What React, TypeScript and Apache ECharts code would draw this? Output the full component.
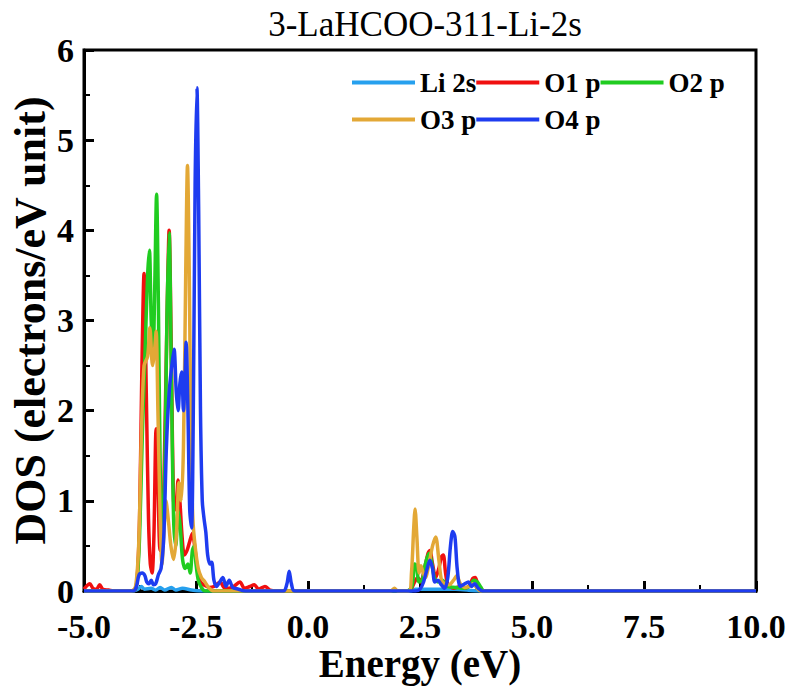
import React, { useEffect, useRef } from "react";
import * as echarts from "echarts";

const chartTitle = "3-LaHCOO-311-Li-2s";
const seriesNames = ["Li 2s", "O1 p", "O2 p", "O3 p", "O4 p"];
const seriesColors = ["#26A0EE", "#F01010", "#20CC20", "#E3A836", "#1E3CF0"];

const li2s: [number, number][] = [
  [-5, 0], [-3.9, 0], [-3.8, 0.02], [-3.72, 0.05], [-3.65, 0.02], [-3.5, 0.03], [-3.4, 0.01],
  [-3.3, 0.04], [-3.2, 0.01], [-3.05, 0.04], [-2.95, 0.01], [-2.8, 0.03], [-2.6, 0.01], [-2.4, 0],
  [2.3, 0], [2.4, 0.02], [2.8, 0.02], [3.3, 0.02], [3.8, 0], [10, 0],
];

const o1p: [number, number][] = [
  [-5, 0.02], [-4.93, 0.06], [-4.87, 0.08], [-4.8, 0.03], [-4.72, 0.02], [-4.65, 0.07], [-4.58, 0.02],
  [-4.45, 0.01], [-4.3, 0], [-3.9, 0], [-3.82, 0.1], [-3.76, 0.8], [-3.71, 2.4], [-3.66, 3.52],
  [-3.61, 2.2], [-3.56, 0.8], [-3.52, 0.3], [-3.48, 0.2], [-3.44, 0.6], [-3.39, 1.8], [-3.35, 1.2],
  [-3.3, 0.45], [-3.25, 0.6], [-3.2, 1.6], [-3.14, 3.2], [-3.1, 4.0], [-3.05, 2.6], [-3.0, 1.0],
  [-2.95, 0.9], [-2.9, 1.23], [-2.86, 1.0], [-2.81, 0.6], [-2.76, 0.4], [-2.7, 0.45], [-2.64, 0.55],
  [-2.58, 0.64], [-2.53, 0.5], [-2.47, 0.25], [-2.4, 0.1], [-2.3, 0.06], [-2.2, 0.04], [-2.1, 0.05],
  [-1.96, 0.1], [-1.88, 0.04], [-1.78, 0.03], [-1.66, 0.05], [-1.52, 0.1], [-1.42, 0.03], [-1.3, 0.05],
  [-1.2, 0.07], [-1.1, 0.02], [-0.96, 0.05], [-0.85, 0.01], [-0.7, 0], [2.2, 0], [2.3, 0.02],
  [2.38, 0.1], [2.45, 0.15], [2.52, 0.1], [2.6, 0.25], [2.68, 0.42], [2.72, 0.45], [2.78, 0.3],
  [2.85, 0.15], [2.92, 0.25], [2.98, 0.38], [3.02, 0.4], [3.07, 0.2], [3.12, 0.08], [3.25, 0.03],
  [3.4, 0.05], [3.5, 0.03], [3.6, 0.06], [3.68, 0.14], [3.73, 0.15], [3.8, 0.06], [3.88, 0.01],
  [4.0, 0], [10, 0],
];

const o2p: [number, number][] = [
  [-5, 0], [-3.9, 0], [-3.82, 0.1], [-3.76, 0.6], [-3.7, 1.7], [-3.64, 2.6], [-3.58, 3.5],
  [-3.54, 3.78], [-3.5, 3.0], [-3.46, 2.6], [-3.42, 3.4], [-3.38, 4.4], [-3.34, 3.2], [-3.3, 1.4],
  [-3.25, 0.6], [-3.2, 1.2], [-3.15, 3.0], [-3.1, 3.97], [-3.05, 2.4], [-3.0, 0.8], [-2.95, 0.5],
  [-2.9, 0.9], [-2.85, 0.7], [-2.8, 0.35], [-2.74, 0.25], [-2.68, 0.3], [-2.63, 0.2], [-2.58, 0.45],
  [-2.54, 0.5], [-2.5, 0.3], [-2.45, 0.12], [-2.38, 0.04], [-2.3, 0], [2.2, 0], [2.32, 0.05],
  [2.38, 0.3], [2.42, 0.28], [2.48, 0.1], [2.55, 0.12], [2.62, 0.3], [2.7, 0.42], [2.75, 0.35],
  [2.82, 0.15], [2.9, 0.1], [3.0, 0.12], [3.1, 0.05], [3.3, 0.04], [3.5, 0.03], [3.62, 0.06],
  [3.7, 0.12], [3.78, 0.1], [3.86, 0.04], [3.93, 0], [10, 0],
];

const o3p: [number, number][] = [
  [-5, 0], [-3.95, 0], [-3.85, 0.05], [-3.78, 0.5], [-3.72, 1.7], [-3.66, 2.5], [-3.58, 2.6],
  [-3.53, 2.92], [-3.47, 2.5], [-3.42, 2.7], [-3.39, 2.88], [-3.35, 2.0], [-3.3, 0.8], [-3.26, 0.3],
  [-3.22, 0.6], [-3.17, 1.0], [-3.12, 0.8], [-3.06, 0.5], [-3.0, 0.35], [-2.94, 0.6], [-2.88, 1.2],
  [-2.83, 1.0], [-2.78, 1.6], [-2.73, 3.5], [-2.69, 4.72], [-2.65, 3.5], [-2.61, 1.6], [-2.57, 0.8],
  [-2.52, 0.5], [-2.45, 0.25], [-2.38, 0.15], [-2.3, 0.1], [-2.22, 0.04], [-2.1, 0], [1.85, 0],
  [1.93, 0.03], [2.0, 0], [2.25, 0], [2.31, 0.2], [2.36, 0.7], [2.39, 0.91], [2.43, 0.6],
  [2.48, 0.2], [2.52, 0.28], [2.56, 0.22], [2.62, 0.15], [2.7, 0.3], [2.78, 0.5], [2.85, 0.6],
  [2.92, 0.35], [2.98, 0.12], [3.05, 0.08], [3.15, 0.07], [3.25, 0.12], [3.32, 0.17], [3.4, 0.08],
  [3.5, 0.04], [3.6, 0.05], [3.68, 0.08], [3.76, 0.04], [3.85, 0], [10, 0],
];

const o4p: [number, number][] = [
  [-5, 0], [-3.9, 0], [-3.83, 0.05], [-3.77, 0.18], [-3.7, 0.2], [-3.64, 0.17], [-3.6, 0.1],
  [-3.55, 0.08], [-3.5, 0.12], [-3.45, 0.07], [-3.4, 0.08], [-3.34, 0.18], [-3.28, 0.25],
  [-3.22, 0.6], [-3.16, 1.6], [-3.1, 2.2], [-3.04, 2.5], [-2.99, 2.68], [-2.94, 2.2], [-2.9, 2.0],
  [-2.86, 2.3], [-2.82, 2.43], [-2.78, 2.0], [-2.75, 2.3], [-2.72, 2.76], [-2.68, 2.0], [-2.64, 0.9],
  [-2.6, 0.7], [-2.56, 2.0], [-2.52, 4.5], [-2.48, 5.58], [-2.44, 4.2], [-2.4, 2.0], [-2.36, 1.0],
  [-2.32, 0.8], [-2.28, 0.65], [-2.24, 0.4], [-2.19, 0.3], [-2.15, 0.32], [-2.1, 0.12], [-2.04, 0.05],
  [-1.97, 0.1], [-1.9, 0.15], [-1.83, 0.05], [-1.76, 0.12], [-1.68, 0.04], [-1.55, 0.02], [-1.4, 0],
  [-0.55, 0], [-0.47, 0.08], [-0.42, 0.22], [-0.37, 0.08], [-0.3, 0], [2.4, 0], [2.5, 0.02],
  [2.58, 0.1], [2.66, 0.25], [2.72, 0.34], [2.78, 0.25], [2.83, 0.1], [2.9, 0.12], [2.96, 0.08],
  [3.05, 0.03], [3.12, 0.15], [3.18, 0.5], [3.23, 0.66], [3.28, 0.6], [3.33, 0.25], [3.4, 0.05],
  [3.5, 0.08], [3.58, 0.1], [3.65, 0.05], [3.72, 0.08], [3.8, 0.03], [3.9, 0], [10, 0],
];

const seriesData = [li2s, o1p, o2p, o3p, o4p];

const FONT = "'Liberation Serif', 'Times New Roman', serif";

export default function App() {
  const ref = useRef<HTMLDivElement>(null);
  useEffect(() => {
    if (!ref.current) return;
    const chart = echarts.init(ref.current, undefined, { renderer: "svg" });
    const axisCommon = {
      axisLine: { show: true, onZero: false, lineStyle: { color: "#000", width: 3 } },
      axisTick: { show: true, inside: true, length: 10, lineStyle: { color: "#000", width: 3 } },
      minorTick: { show: true, splitNumber: 2, length: 6, lineStyle: { color: "#000", width: 2 } },
      splitLine: { show: false },
      nameLocation: "middle" as const,
      nameMoveOverlap: false,
    };
    const legendText = { fontFamily: FONT, fontWeight: "bold" as const, fontSize: 27, color: "#000" };
    chart.setOption({
      animation: false,
      backgroundColor: "#fff",
      title: {
        text: chartTitle,
        left: 420,
        top: 2,
        textAlign: "center",
        textStyle: { fontFamily: FONT, fontWeight: "normal", fontSize: 35, color: "#000" },
      },
      legend: [
        {
          data: seriesNames.slice(0, 3),
          left: 347,
          top: 64,
          icon: "rect",
          itemWidth: 63,
          itemHeight: 4,
          itemGap: 0,
          textStyle: legendText,
        },
        {
          data: seriesNames.slice(3),
          left: 347,
          top: 101,
          icon: "rect",
          itemWidth: 63,
          itemHeight: 4,
          itemGap: 0,
          textStyle: legendText,
        },
      ],
      grid: {
        left: 84,
        right: 35,
        top: 50,
        bottom: 95,
        show: true,
        borderColor: "#000",
        borderWidth: 3,
        containLabel: false,
        outerBoundsMode: "none",
      },
      xAxis: {
        type: "value",
        min: -5,
        max: 10,
        interval: 2.5,
        name: "Energy (eV)",
        nameGap: 52,
        nameTextStyle: { fontFamily: FONT, fontWeight: "bold", fontSize: 39, lineHeight: 40, color: "#000" },
        ...axisCommon,
        axisLabel: {
          formatter: (v: number) => v.toFixed(1),
          fontFamily: FONT,
          fontWeight: "bold",
          fontSize: 34,
          lineHeight: 30,
          color: "#000",
          margin: 20,
          showMinLabel: true,
          showMaxLabel: true,
        },
      },
      yAxis: {
        type: "value",
        min: 0,
        max: 6,
        interval: 1,
        name: "DOS (electrons/eV unit)",
        nameGap: 32,
        nameTextStyle: { fontFamily: FONT, fontWeight: "bold", fontSize: 44, color: "#000" },
        ...axisCommon,
        axisLabel: {
          fontFamily: FONT,
          fontWeight: "bold",
          fontSize: 34,
          lineHeight: 30,
          color: "#000",
          margin: 10,
          showMinLabel: true,
          showMaxLabel: true,
        },
      },
      series: seriesNames.map((name, i) => ({
        name,
        type: "line",
        data: seriesData[i],
        smooth: 0.3,
        showSymbol: false,
        symbol: "none",
        color: seriesColors[i],
        lineStyle: { color: seriesColors[i], width: 3.5 },
        itemStyle: { color: seriesColors[i] },
        z: 2 + i,
      })),
    });
    return () => chart.dispose();
  }, []);
  return (
    <div
      ref={ref}
      style={{ position: "fixed", left: 0, top: 0, width: 791, height: 686, background: "#fff" }}
    />
  );
}
